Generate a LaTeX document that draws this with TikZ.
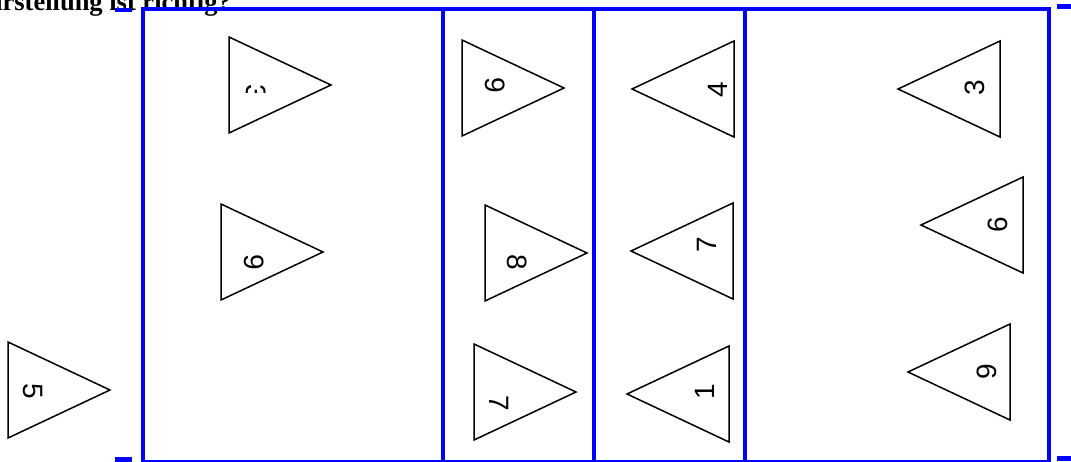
\documentclass[tikz,border=0pt]{standalone}
\usepackage{fontspec}
\setmainfont{Liberation Serif}
\setsansfont{Liberation Sans}
\usetikzlibrary{positioning}
\definecolor{frameblue}{RGB}{0,0,255}

\begin{document}
\begin{tikzpicture}[x=1pt,y=-1pt,
  frame/.style={line width=3.5pt,frameblue},
  cornermark/.style={line width=4.5pt,frameblue},
  tri/.style={draw,line width=1.5pt,line join=miter},
  digit/.style={font=\sffamily\fontsize{28}{28}\selectfont,inner sep=0pt}]
\useasboundingbox (0,0) rectangle (1071,461);
% title, cut off by the page
\node[anchor=base east,inner sep=0pt,font=\bfseries\fontsize{26.5}{26.5}\selectfont] (title) at (231,10) {Darstellung ist richtig?};
% frame and columns
\draw[frame] (143,9) rectangle (1049,462);
\foreach \xa in {443,594,745}{
  \draw[frame] (\xa,9) -- (\xa,462);
}
% corner marks
\draw[cornermark] (115,10) -- (132,10);
\draw[cornermark] (115,459.5) -- (132,459.5);
\draw[cornermark] (1057,6.5) -- (1071,6.5);
\draw[cornermark] (1057,458.5) -- (1071,458.5);
% triangles pointing right (left edge x, top y)
\foreach \xa/\ya in {8/342, 229/37, 221/204, 462/40, 485/205, 474/344}{
  \draw[tri] (\xa,\ya) -- (\xa,\ya+96) -- (\xa+102,\ya+48) -- cycle;
}
% triangles pointing left (right edge x, top y)
\foreach \xa/\ya in {734/41, 733/203, 729/346, 1000/41, 1023/177, 1010/324}{
  \draw[tri] (\xa,\ya) -- (\xa,\ya+96) -- (\xa-102,\ya+48) -- cycle;
}
% digits
\node[digit,rotate=-90] (five) at (33,391) {5};
\begin{scope}
  \clip (240,84.5) rectangle (272,92);
  \node[digit,rotate=-90] (threeA) at (256,92.5) {3};
\end{scope}
\node[digit,rotate=-90] (nineA) at (254,262) {9};
\node[digit,rotate=-90] (nineB) at (495,85) {9};
\node[digit,rotate=-90] (eight) at (517,262) {8};
\node[digit,rotate=-90] (sevenA) at (499,403) {7};
\node[digit,rotate=90] (four) at (718,90) {4};
\node[digit,rotate=90] (sevenB) at (707,245) {7};
\node[digit,rotate=90] (one) at (705,392) {1};
\node[digit,rotate=90] (threeB) at (975,88) {3};
\node[digit,rotate=90] (six) at (998,225) {6};
\node[digit,rotate=90] (nineC) at (987,372) {9};
\end{tikzpicture}
\end{document}
